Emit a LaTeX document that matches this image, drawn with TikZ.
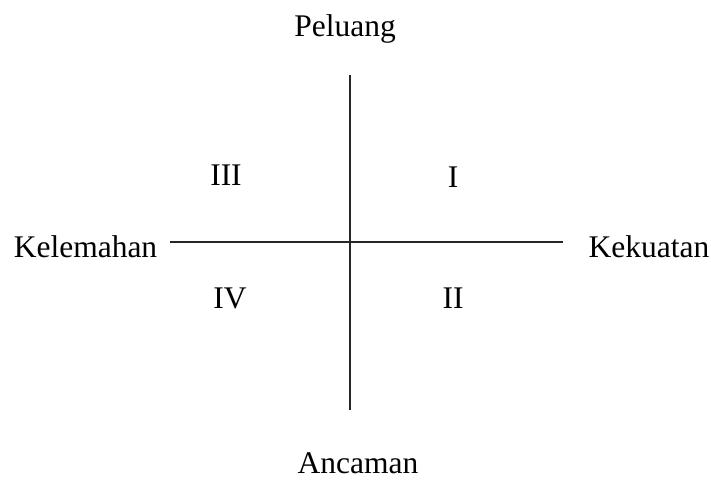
\documentclass[tikz,border=0pt]{standalone}
\usepackage{fontspec}
\setmainfont{Liberation Serif}
\begin{document}
\begin{tikzpicture}[x=1bp,y=-1bp,
  lbl/.style={anchor=base,inner sep=0pt,font=\fontsize{31.5bp}{38bp}\selectfont},
  axis/.style={line width=2.2bp,black!85}]
\useasboundingbox (0,0) rectangle (711,481);
\coordinate (top) at (350,75);
\coordinate (bot) at (350,410);
\coordinate (left) at (170,242);
\coordinate (right) at (563,242);
\draw[axis] (top) -- (bot);
\draw[axis] (left) -- (right);
\node[lbl] (peluang) at (345,37) {Peluang};
\node[lbl] (ancaman) at (358,473) {Ancaman};
\node[lbl] (kelemahan) at (85.5,258) {Kelemahan};
\node[lbl] (kekuatan) at (649,258) {Kekuatan};
\node[lbl] (q3) at (226,186) {III};
\node[lbl] (q1) at (453,188) {I};
\node[lbl] (q4) at (230,308) {IV};
\node[lbl] (q2) at (453,308) {II};
\end{tikzpicture}
\end{document}
